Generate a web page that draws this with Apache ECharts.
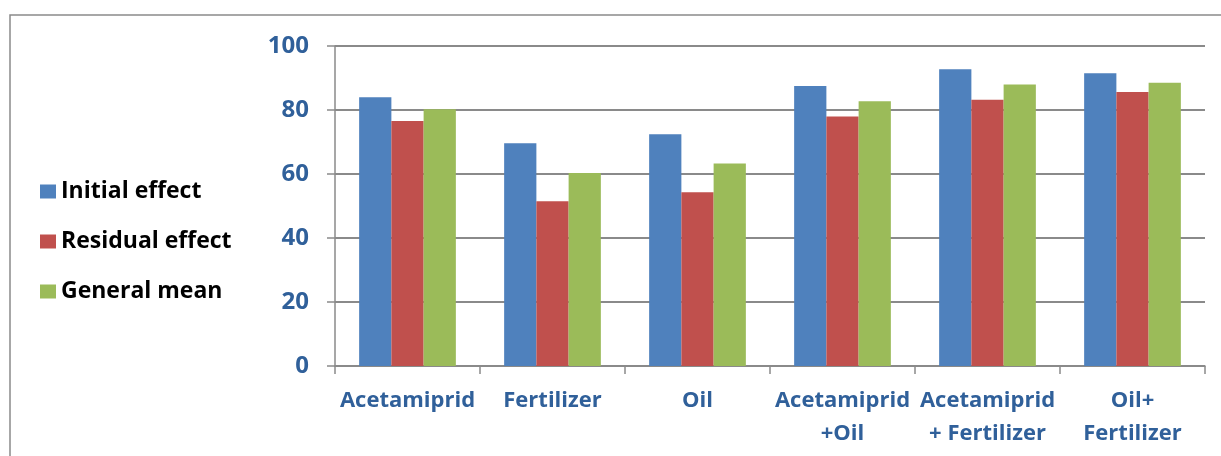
<!DOCTYPE html>
<html>
<head>
<meta charset="utf-8">
<title>Treatment effects</title>
<script src="https://cdn.jsdelivr.net/npm/echarts@6/dist/echarts.min.js"></script>
<style>
  html, body { margin: 0; padding: 0; background: #ffffff; }
  #chart { width: 1221px; height: 456px; }
</style>
</head>
<body>
<div id="chart"></div>
<script>
// Treatments along the category axis
const categories = [
  'Acetamiprid',
  'Fertilizer',
  'Oil',
  'Acetamiprid\n+Oil',
  'Acetamiprid\n+ Fertilizer',
  'Oil+\nFertilizer'
];

// Percent values per series
const initialEffect  = [84.0, 69.6, 72.4, 87.5, 92.7, 91.5];
const residualEffect = [76.6, 51.5, 54.3, 78.0, 83.2, 85.6];
const generalMean    = [80.2, 60.3, 63.3, 82.7, 88.0, 88.5];

const seriesNames = ['Initial effect', 'Residual effect', 'General mean'];
const yTicks = { min: 0, max: 100, interval: 20 };

const colors = ['#4F81BD', '#C0504D', '#9BBB59'];
const labelColor = '#30609A';
const lineColor = '#8A8A8A';
const fontFamily = '"Open Sans", "Liberation Sans", sans-serif';

const chart = echarts.init(document.getElementById('chart'), null, { renderer: 'canvas' });

const seriesData = [initialEffect, residualEffect, generalMean];

chart.setOption({
  animation: false,
  color: colors,
  grid: { left: 335, right: 16, top: 46, bottom: 90, containLabel: false },
  graphic: [{
    type: 'rect',
    silent: true,
    z: -1,
    shape: { x: 10, y: 15, width: 1400, height: 700 },
    style: { fill: 'none', stroke: lineColor, lineWidth: 1.5 }
  }],
  legend: {
    orient: 'vertical',
    left: 40,
    top: 180,
    padding: 0,
    itemWidth: 16,
    itemHeight: 14,
    itemGap: 27,
    icon: 'rect',
    data: seriesNames,
    textStyle: {
      fontFamily: fontFamily,
      fontWeight: 'bold',
      fontSize: 23,
      lineHeight: 23,
      color: '#000000'
    }
  },
  xAxis: {
    type: 'category',
    data: categories,
    axisLine: { show: true, lineStyle: { color: lineColor, width: 1.5 } },
    axisTick: { show: true, alignWithLabel: false, length: 8, lineStyle: { color: lineColor, width: 1.5 } },
    axisLabel: {
      interval: 0,
      margin: 18,
      color: labelColor,
      fontFamily: fontFamily,
      fontWeight: 'bold',
      fontSize: 22,
      lineHeight: 33,
      align: 'center'
    }
  },
  yAxis: {
    type: 'value',
    min: yTicks.min,
    max: yTicks.max,
    interval: yTicks.interval,
    axisLine: { show: true, lineStyle: { color: lineColor, width: 1.5 } },
    axisTick: { show: true, length: 8, lineStyle: { color: lineColor, width: 1.5 } },
    splitLine: { show: true, lineStyle: { color: lineColor, width: 2 } },
    axisLabel: {
      margin: 26,
      color: labelColor,
      fontFamily: fontFamily,
      fontWeight: 'bold',
      fontSize: 24
    }
  },
  series: seriesNames.map((name, i) => ({
    name: name,
    type: 'bar',
    data: seriesData[i],
    barGap: '0%',
    barCategoryGap: '33.3%',
    itemStyle: { color: colors[i] }
  }))
});
</script>
</body>
</html>
